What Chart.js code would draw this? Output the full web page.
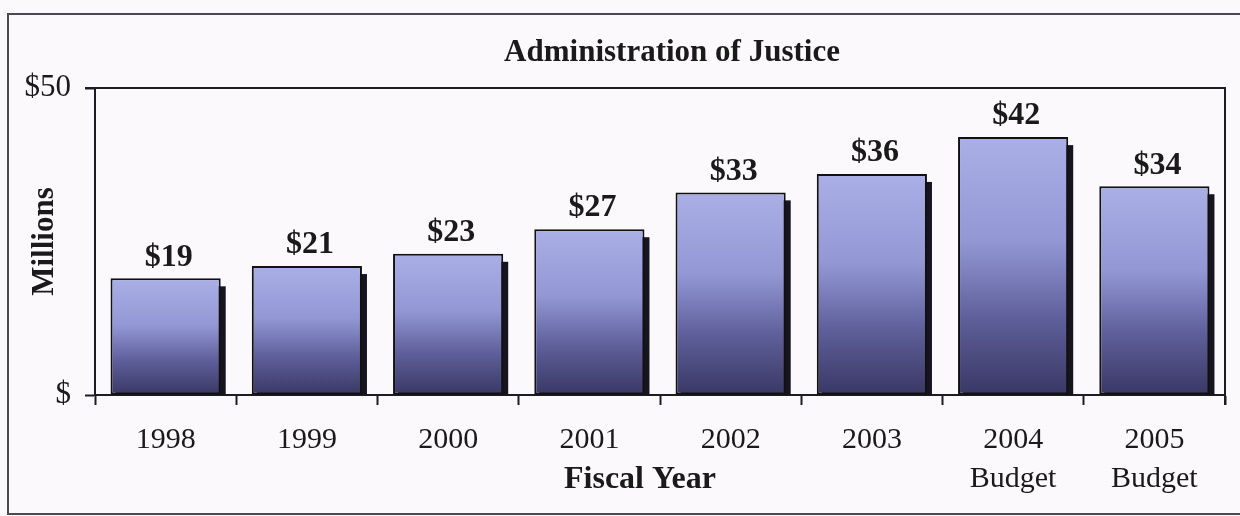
<!DOCTYPE html>
<html lang="en">
  <head>
    <meta charset="UTF-8" />
    <title>Administration of Justice</title>
    <script src="https://cdn.jsdelivr.net/npm/chart.js@4.4.0/dist/chart.umd.min.js"></script>
    <style>
      body { margin: 0; background-color: #fcf9fc; }
      canvas { display: block; }
    </style>
  </head>
  <body>
    <canvas id="chart" width="1240" height="516"></canvas>

    <script>
      // spending by fiscal year, in millions of dollars
      const years = ['1998', '1999', '2000', '2001', '2002', '2003', ['2004', 'Budget'], ['2005', 'Budget']];
      const amounts = [19, 21, 23, 27, 33, 36, 42, 34];
      const yTicks = [0, 50];

      const serif = '"Liberation Serif", "Times New Roman", serif';
      const ink = '#1a1a1a';

      // light lavender at the top of each bar fading to dark purple at the base
      function barGradient(c) {
        const chart = c.chart;
        const ys = chart.scales.y;
        if (!ys || c.type !== 'data') return '#8d92cf';
        const top = ys.getPixelForValue(c.raw);
        const bottom = ys.getPixelForValue(0);
        if (!isFinite(top) || !isFinite(bottom) || top === bottom) return '#8d92cf';
        const g = chart.ctx.createLinearGradient(0, top, 0, bottom);
        g.addColorStop(0, '#aaafe6');
        g.addColorStop(0.4, '#9398d5');
        g.addColorStop(0.7, '#5f609b');
        g.addColorStop(1, '#393764');
        return g;
      }

      // drop shadow behind each bar
      const barShadow = {
        id: 'barShadow',
        beforeDatasetsDraw(chart) {
          const { ctx, chartArea } = chart;
          ctx.save();
          ctx.beginPath();
          ctx.rect(chartArea.left, chartArea.top, chartArea.right - chartArea.left, chartArea.bottom - chartArea.top);
          ctx.clip();
          ctx.fillStyle = '#16151f';
          chart.getDatasetMeta(0).data.forEach(el => {
            ctx.fillRect(el.x - el.width / 2 + 5, el.y + 8, el.width, el.base - el.y);
          });
          ctx.restore();
        }
      };

      // dollar amounts above the bars, the box lines on top and right, and the titles
      const valueLabels = {
        id: 'valueLabels',
        afterDatasetsDraw(chart) {
          const { ctx, chartArea } = chart;
          ctx.save();
          ctx.strokeStyle = '#1c1c22';
          ctx.lineWidth = 2;
          ctx.beginPath();
          ctx.moveTo(chartArea.left - 10, chartArea.top);
          ctx.lineTo(chartArea.right, chartArea.top);
          ctx.lineTo(chartArea.right, chartArea.bottom + 10);
          ctx.stroke();

          ctx.fillStyle = ink;
          ctx.font = 'bold 32px ' + serif;
          ctx.textAlign = 'center';
          ctx.textBaseline = 'bottom';
          chart.getDatasetMeta(0).data.forEach((el, i) => {
            ctx.fillText('$' + amounts[i], el.x + 3, el.y - 5);
          });

          const mid = (chartArea.left + chartArea.right) / 2;
          ctx.textBaseline = 'middle';
          ctx.font = 'bold 31px ' + serif;
          ctx.fillText('Administration of Justice', mid + 12, 53);
          ctx.font = 'bold 32px ' + serif;
          ctx.fillText('Fiscal Year', mid - 20, 480);
          ctx.restore();
        },
        afterDraw(chart) {
          // outer frame round the whole figure
          const ctx = chart.ctx;
          ctx.save();
          ctx.strokeStyle = '#4a4a50';
          ctx.lineWidth = 2;
          ctx.strokeRect(8, 14, 1260, 500);
          ctx.restore();
        }
      };

      const ctx = document.getElementById('chart').getContext('2d');
      const myChart = new Chart(ctx, {
        type: 'bar',
        data: {
          labels: years,
          datasets: [{
            data: amounts,
            backgroundColor: barGradient,
            borderColor: '#111',
            borderWidth: 2,
            borderSkipped: false,
            categoryPercentage: 1,
            barPercentage: 0.78
          }]
        },
        options: {
          responsive: false,
          animation: false,
          layout: { padding: { left: 0, right: 15, top: 88, bottom: 0 } },
          plugins: {
            legend: { display: false },
            tooltip: { enabled: false },
            title: { display: false }
          },
          scales: {
            x: {
              afterFit: s => { s.height = 121; },
              border: { display: true, color: '#1c1c22', width: 2 },
              grid: { display: true, offset: true, drawOnChartArea: false, drawTicks: true, tickLength: 10, tickWidth: 2, tickColor: '#1c1c22' },
              ticks: {
                color: ink,
                padding: 16,
                maxRotation: 0,
                font: { family: serif, size: 30, lineHeight: 1.3 }
              }
            },
            y: {
              min: 0,
              max: 50,
              afterFit: s => { s.width = 95; },
              afterBuildTicks: s => { s.ticks = yTicks.map(v => ({ value: v })); },
              border: { display: true, color: '#1c1c22', width: 2 },
              grid: { display: true, drawOnChartArea: false, drawTicks: true, tickLength: 10, tickWidth: 2, tickColor: '#1c1c22' },
              ticks: {
                color: ink,
                padding: 14,
                font: { family: serif, size: 31 },
                callback: v => v === 0 ? '$' : '$' + v
              },
              title: {
                display: true,
                text: 'Millions',
                color: ink,
                font: { family: serif, size: 31, weight: 'bold', lineHeight: 1.2 },
                padding: { top: 26, bottom: 0 }
              }
            }
          }
        },
        plugins: [barShadow, valueLabels]
      });
    </script>
  </body>
</html>
